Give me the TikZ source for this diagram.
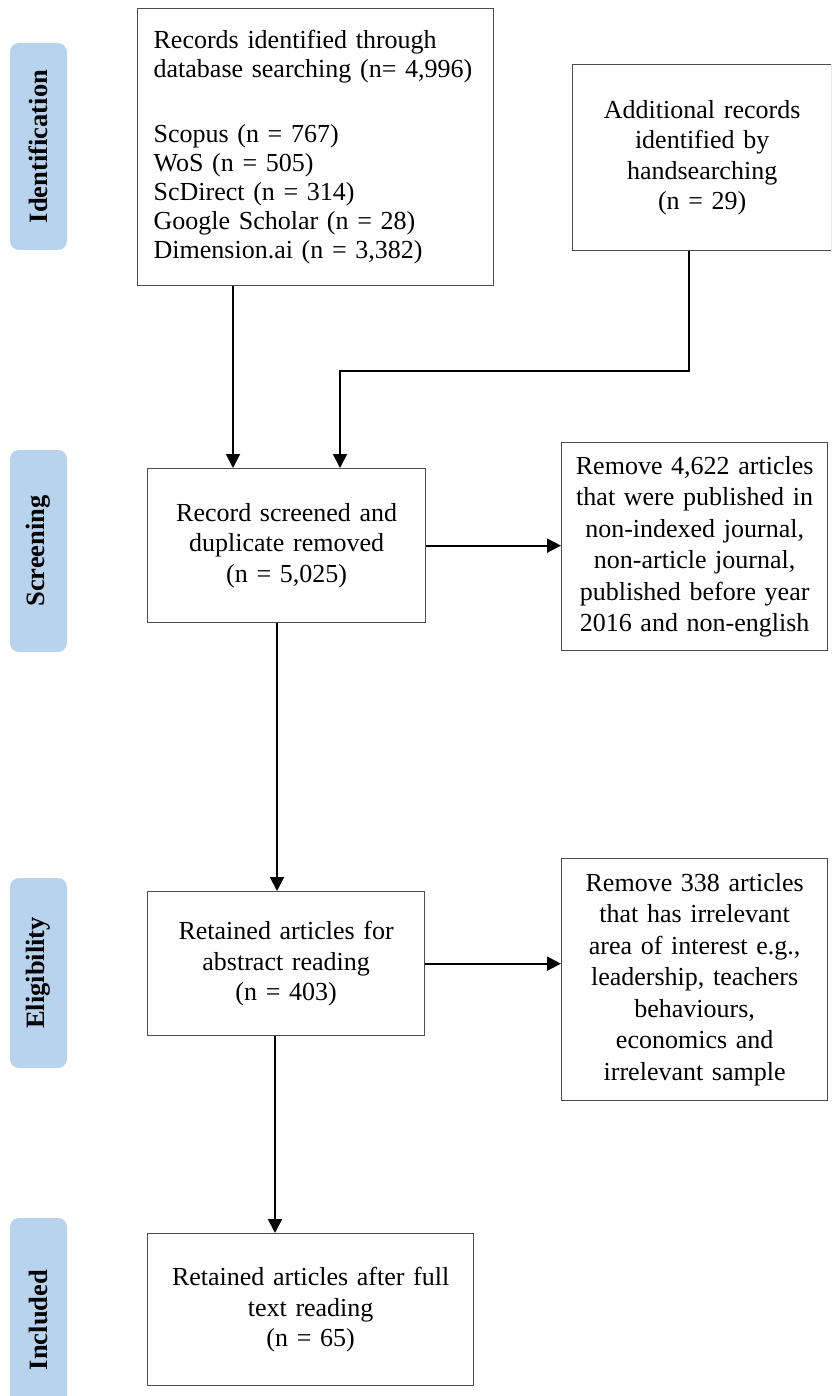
\documentclass[tikz,border=0pt]{standalone}
\usepackage{fontspec}
\setmainfont{Liberation Serif}
\usepackage{tikz}
\usetikzlibrary{arrows.meta,positioning}
\definecolor{phaseblue}{RGB}{184,211,237}
\tikzset{
  box/.style={draw=black!70,line width=1.3pt,anchor=north west,align=center,
    inner xsep=8pt,inner ysep=0pt,font=\fontsize{26}{30.5}\selectfont},
  phase/.style={fill=phaseblue,rounded corners=9pt,rotate=90,minimum height=57pt,
    inner sep=0pt,font=\fontsize{26.5}{30}\selectfont\bfseries},
  every node/.style={text=black}
}
\tikzstyle{arrow} = [line width=1.9pt,-{Triangle[width=14pt,length=14pt]}]

\begin{document}
\begin{tikzpicture}[x=1pt,y=-1pt]
  % Page window
  \clip (0,0) rectangle (831,1396);

  % Phase labels
  \node[phase,minimum width=207pt] (idLab)  at (38.5,146.5) {Identification};
  \node[phase,minimum width=202pt] (scrLab) at (38.5,551)   {Screening};
  \node[phase,minimum width=190pt] (eliLab) at (38.5,973)   {Eligibility};
  \node[phase,minimum width=204pt] (incLab) at (38.5,1320)  {Included};

  % Boxes
  \node[box,align=left,inner xsep=16pt,text width=324pt,minimum height=277pt,
    font=\fontsize{26}{29}\selectfont] (records) at (137,8)
    {Records identified through\\database searching (n= 4,996)\\[36pt]
     Scopus (n = 767)\\WoS (n = 505)\\ScDirect (n = 314)\\
     Google Scholar (n = 28)\\Dimension.ai (n = 3,382)};
  \node[box,text width=243pt,minimum height=186pt] (additional) at (572,64)
    {Additional records\\identified by\\handsearching\\(n = 29)};
  \node[box,text width=262pt,minimum height=154pt] (screened) at (147,468)
    {Record screened and\\duplicate removed\\(n = 5,025)};
  \node[box,text width=250pt,minimum height=208pt,
    font=\fontsize{26}{31.5}\selectfont] (removeA) at (561,442)
    {Remove 4,622 articles\\that were published in\\non-indexed journal,\\
     non-article journal,\\published before year\\2016 and non-english};
  \node[box,text width=261pt,minimum height=144pt] (abstract) at (147,891)
    {Retained articles for\\abstract reading\\(n = 403)};
  \node[box,text width=250pt,minimum height=242pt,
    font=\fontsize{26}{31.5}\selectfont] (removeB) at (561,858)
    {Remove 338 articles\\that has irrelevant\\area of interest e.g.,\\
     leadership, teachers\\behaviours,\\economics and\\irrelevant sample};
  \node[box,text width=310pt,minimum height=152pt] (fulltext) at (147,1233)
    {Retained articles after full\\text reading\\(n = 65)};

  % Connectors
  \coordinate (dbX) at (233,0);
  \coordinate (handX) at (689,0);
  \coordinate (bend) at (340,371);
  \coordinate (scrX) at (277,0);
  \coordinate (absX) at (275,0);
  \draw[arrow] (records.south -| dbX) -- (screened.north -| dbX);
  \draw[arrow] (additional.south -| handX) |- (bend) -- (screened.north -| bend);
  \draw[arrow] (screened.east) -- (screened.east -| removeA.west);
  \draw[arrow] (screened.south -| scrX) -- (abstract.north -| scrX);
  \draw[arrow] (abstract.east) -- (abstract.east -| removeB.west);
  \draw[arrow] (abstract.south -| absX) -- (fulltext.north -| absX);
\end{tikzpicture}
\end{document}
